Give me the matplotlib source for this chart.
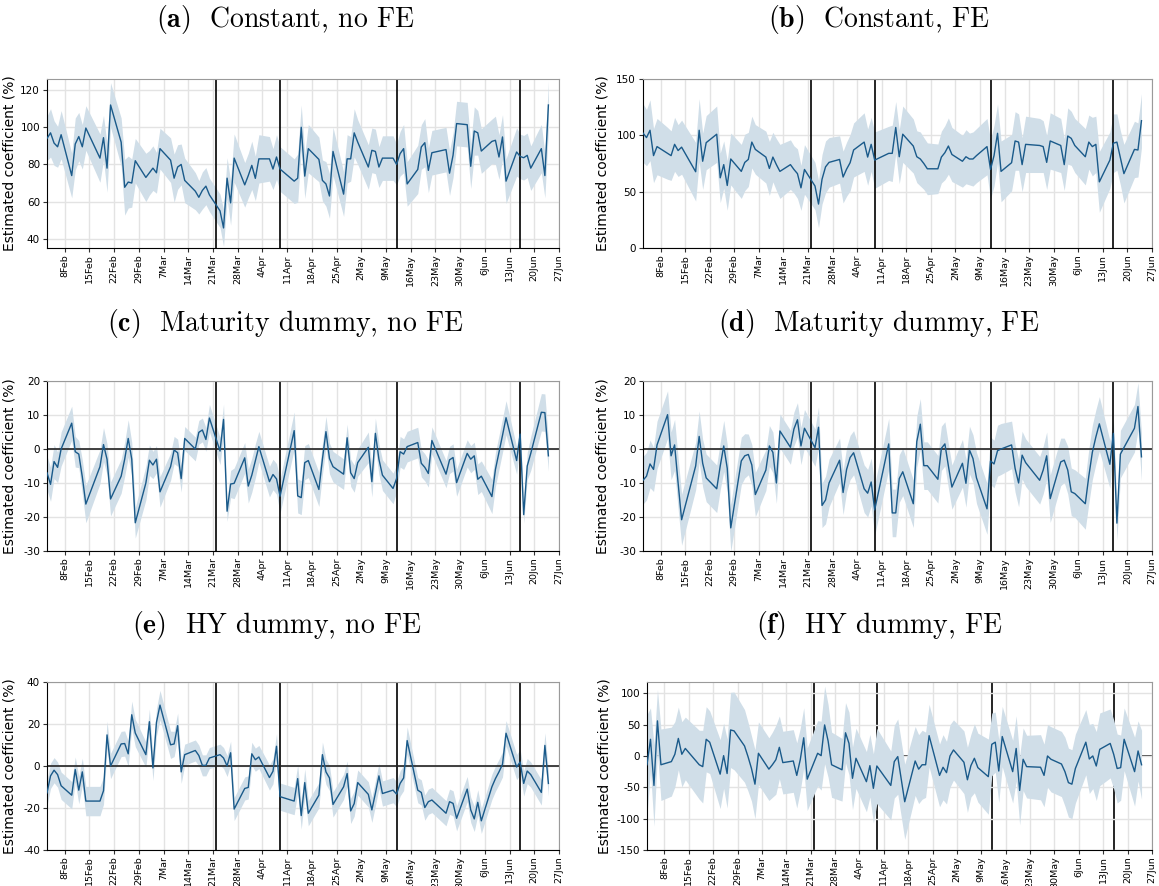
import matplotlib
matplotlib.use("Agg")
import matplotlib.pyplot as plt
import numpy as np
import pandas as pd

plt.rcParams['mathtext.fontset'] = 'cm'
plt.rcParams['axes.unicode_minus'] = False

# trading days, Feb 3 - Jun 24 2020 (US bond market holidays dropped)
dates = pd.bdate_range('2020-02-03', '2020-06-24')
dates = dates.drop(pd.to_datetime(['2020-02-17', '2020-04-10', '2020-05-25']))

events = pd.to_datetime(['2020-03-22', '2020-04-09', '2020-05-12', '2020-06-16'])
week_ticks = pd.date_range('2020-02-08', '2020-06-27', freq='7D')

titles = ['Constant, no FE', 'Constant, FE',
          'Maturity dummy, no FE', 'Maturity dummy, FE',
          'HY dummy, no FE', 'HY dummy, FE']
letters = ['a', 'b', 'c', 'd', 'e', 'f']

# point estimates (%)
est_a = [94, 97, 91.5, 89.5, 96, 74, 91, 95, 89.5, 99.6,
         83.4, 94.4, 78, 112, 92, 67.7, 70.5, 70, 82,
         73, 75.5, 78, 75.5, 88.5, 82.3, 72.6, 78.6, 80, 71.4,
         65.6, 62.3, 66, 68.3, 63.6, 55, 45.8, 72.6, 59.3, 83.4,
         69, 74, 79.5, 72.5, 83, 83, 77.5, 84, 77.5,
         71, 72.6, 100, 73.7, 88.5, 82.7, 71.4, 69.5, 63, 87,
         64, 83, 83, 97, 92, 78.6, 87.6, 87, 78.6, 83.4,
         83.4, 80, 85.8, 88.5, 69.5, 77.3, 89.4, 91.7, 76.8, 86.3,
         88, 75.3, 85, 102, 101.4, 79, 98, 97, 87.2,
         92.4, 93, 84, 94.8, 71, 86.7, 84.3, 83.6, 84.9, 78,
         88.5, 74, 112]
hw_a = [12, 13, 12, 11, 13, 12, 14, 13, 12, 12,
        13, 12, 13, 12, 13, 15, 14, 13, 12,
        13, 12, 12, 11, 11, 12, 13, 12, 11, 12,
        10, 9, 10, 10, 9, 9, 10, 11, 12, 13,
        12, 12, 13, 12, 13, 12, 11, 12, 12,
        12, 13, 12, 12, 13, 12, 11, 12, 12, 13,
        12, 13, 12, 13, 12, 12, 12, 12, 11, 12,
        12, 11, 12, 13, 12, 13, 12, 13, 12, 12,
        12, 12, 12, 12, 12, 12, 13, 12, 12,
        12, 13, 12, 12, 12, 13, 12, 12, 12, 12,
        13, 12, 13]

est_b = [102, 98, 104.5, 82, 90, 84, 82, 92, 86.5, 89.5,
         67.7, 104.5, 77, 93.5, 101, 62.3, 74, 55.5, 79,
         68, 76, 78.6, 94, 87.5, 80.7, 70.6, 80.7, 74, 68,
         74, 69.7, 66, 53.4, 69.7, 55, 39, 61, 72, 76,
         78.6, 63, 70, 75.7, 87, 94, 80.7, 92, 78,
         84, 84, 107, 81, 101, 90.5, 81, 79, 75, 70.3,
         70.3, 80.7, 84.6, 90.5, 83, 77, 81, 79, 79, 82,
         90, 69.7, 82, 101.8, 68, 75.7, 95, 94, 74, 92,
         91, 90, 76, 95, 91, 74, 99.4, 97.3, 91,
         81, 94, 90, 92, 58.7, 78, 93, 94, 80, 66,
         87.5, 87, 113]
hw_b = [26, 25, 27, 24, 25, 23, 22, 24, 23, 24,
        26, 28, 25, 24, 25, 22, 21, 22, 23,
        24, 25, 24, 23, 22, 23, 24, 22, 23, 24,
        22, 21, 22, 20, 22, 21, 21, 22, 23, 22,
        21, 23, 24, 25, 24, 26, 25, 24, 25,
        24, 25, 23, 24, 25, 24, 23, 24, 23, 23,
        22, 23, 24, 25, 24, 23, 24, 23, 24, 24,
        25, 26, 27, 26, 27, 25, 26, 25, 24, 25,
        24, 23, 24, 25, 24, 23, 25, 24, 24,
        25, 24, 26, 25, 27, 25, 26, 25, 24, 26,
        25, 24, 24]

est_c = [-7, -10.4, -3.7, -5.4, 0, 7.6, -0.8, -1.5, -8.2, -16.2,
         -5.2, 1.3, -3, -14.7, -8, -3, 3.1, -3, -21.7,
         -10, -3.3, -4.7, -3, -12.6, -5.2, -0.3, -1.1, -8.7, 3.1,
         0, 4.9, 5.6, 2.8, 9.1, -0.6, 8.7, -18.3, -10.3, -10.1,
         -2.6, -10.9, -7.7, -3.5, 0.7, -9.6, -7.5, -8.8, -13.9,
         5.4, -13.8, -14.3, -4, -3.4, -11.9, -3, 5.1, -2.8, -5.2,
         -7.4, 3.3, -7, -8.7, -4, 0.5, -9.6, 4.6, -3, -7.7,
         -11.6, -8.7, -0.8, -1.5, 0.7, 1.9, -4.2, -5.4, -7.2, 2.5,
         -7.4, -3.2, -2.5, -9.9, -1.3, -3, -2, -8.9, -8,
         -14, -6, -1, 4, 9.2, -3.4, 4.4, -19.3, -5, -1.3,
         10.8, 10.7, -2]
hw_c = [5, 5, 5, 4.5, 5, 5, 4.5, 4, 5, 5.5,
        5, 5, 4.5, 5, 5, 5, 5.5, 5, 4.5,
        5, 4.5, 4, 4, 4.5, 4, 4, 4, 4, 3.5,
        3.5, 3.5, 3.5, 3.5, 4, 4, 4.5, 3, 4, 4.5,
        4.5, 5, 5, 5, 4.5, 4.5, 4.5, 4.5, 5,
        5.5, 5, 5, 5, 5, 5, 4.5, 4.5, 4.5, 4.5,
        4.5, 4, 4, 4, 4, 4.5, 4.5, 4.5, 4.5, 4.5,
        4.5, 4, 4.5, 4.5, 4.5, 4.5, 4, 4, 4, 4,
        4, 4, 4, 4, 4, 4, 4, 4.5, 4.5,
        5, 5, 5, 5, 5, 4, 3, 2.5, 4, 5,
        5.5, 5.5, 4.5]

est_d = [-9.2, -8, -4.4, -6, 1.2, 10.1, -2, 1.2, -10, -20.8,
         -5, 3.7, -4.2, -8.5, -11.7, -5, 0.9, -5.7, -23.2,
         -3.5, -2, -1.6, -4.7, -13.4, -6.2, 0.9, -1, -10, 5.3,
         0.5, 5.9, 8.6, 0.9, 6.1, 0.4, 6.4, -16.6, -15, -10,
         -3.3, -12.8, -6, -2.5, -1.1, -11.7, -13, -9.7, -17.9,
         1.5, -18.8, -18.8, -8.7, -6.7, -16.1, 2.2, 7.3, -4.9, -4.9,
         -8.9, 0.2, 1.5, -5, -11.2, -4.2, -10.1, -0.3, -2.8, -8.5,
         -17.6, -3.5, -4.4, -0.5, 0, 1.2, -5.7, -10, -1.8, -4,
         -9.2, -6.2, -2, -14.6, -3.8, -3.3, -6.2, -12.6, -13.1,
         -16.1, -8, -1, 3.5, 7.4, -4.5, 4.6, -21.8, -1.5, 0.4,
         6.1, 12.5, -2.3]
hw_d = [7, 7, 7, 6.5, 7, 7, 7, 7.5, 7.5, 7.5,
        7, 7.5, 7, 7, 7, 7, 7.5, 7, 7,
        7, 6.5, 6, 6, 6.5, 6, 6, 6, 6, 5,
        5, 5, 5, 5.5, 5.5, 5.5, 6, 6.5, 7, 7,
        6.5, 6.5, 6.5, 6.5, 6.5, 7, 7, 7, 7.5,
        7.5, 7, 7, 7, 7, 7, 7.5, 7.5, 7, 7,
        7, 6.5, 6.5, 6.5, 6.5, 7, 7, 7, 7, 7.5,
        7.5, 7, 7, 7.5, 7.5, 7, 7, 7, 7, 7,
        7, 7, 7, 7, 7, 6.5, 7, 7, 7,
        7.5, 8, 8, 8, 8, 7, 4, 5, 7, 7,
        7, 7, 7]

est_e = [-12.8, -4.7, -2, -4.1, -9.4, -13.9, -1.7, -11.5, -2.8, -16.7,
         -16.7, -11.8, 14.8, 0, 10.5, 10.7, 5.8, 24.4, 15.7,
         5.4, 21.1, -0.9, 20.8, 29, 10.1, 10.5, 19.2, -2.8, 5.4,
         7.4, 5, 0.3, 0.3, 3.8, 5.4, 3.8, 0, 6.3, -20.5,
         -10.7, -10.2, 5.8, 3, 4.3, -5.5, -2.5, 9.4, -14.6,
         -16.7, -6, -23.6, -7.9, -22.5, -13.9, 5.4, -2.8, -5.7, -18.3,
         -9.9, -3.6, -21.4, -17.9, -7.9, -13.5, -20.9, -13, -4.7, -13.1,
         -11.5, -13.4, -8.3, -5.7, 12.1, -11.5, -12.6, -19.8, -17, -16.2,
         -22.5, -17, -17.8, -24.9, -11, -20.9, -25.2, -17.3, -26.1,
         -9.9, -6, -2.8, 0.8, 15.6, -0.5, 1.9, -8.3, -2.4, -4.1,
         -12.6, 9.8, -8.3]
hw_e = [6, 6, 6, 6, 6.5, 6.5, 6, 6.5, 6.5, 7,
        7, 6.5, 6.5, 6, 6, 6, 6, 6.5, 6.5,
        6, 6, 6, 6.5, 7, 6.5, 6, 6, 5.5, 5,
        5, 5, 5, 5, 5, 5, 5, 5, 5.5, 5.5,
        5.5, 5.5, 5.5, 5.5, 5.5, 6, 6, 6, 6.5,
        6.5, 6.5, 6.5, 6.5, 6, 6, 6, 6, 6, 6,
        6, 6, 6, 6, 6, 6, 6, 6, 6, 6,
        6, 6, 6, 6, 6.5, 6, 6, 6, 6, 6,
        6, 6, 6, 6, 6, 6, 6, 6, 6,
        6, 6, 6, 6, 6, 6, 6, 6, 6, 6,
        6, 6, 6]

est_f = [-14, 26.6, -47, 56, -14, -9, 2.7, 28, 2.7, 12,
         -14, -17, 26.6, 22, -29, 0.5, -28, 41.5, 40,
         16, -1, -20, -45, 4.3, -21, -14, -6, 13.8, -10.6,
         -8, -31, -6, 29, -37, 4.3, 0.5, 49.5, 24, -14,
         -22, 37, 20, -35.6, -3.7, -41, -15.4, -51.6, -16,
         -47, -9, -1, -37, -73, -8, -21, -14, -14, 32.4,
         -31, -18, -26.6, 0, 9.6, -10, -38, -15.4, -3.7, -18.6,
         -33, 18.6, 22, -24, 31, -25, 12, -55, -5.3, -17,
         -18, -31, 0, -5.3, -12.8, -25, -42.5, -45, -20,
         22, -4.8, 0, -16, 10.6, 20, 2.7, -20, -18.6, 26.6,
         -25, 8, -14]
hw_f = [80, 50, 65, 50, 57, 55, 52, 50, 52, 50,
        55, 58, 52, 50, 55, 52, 55, 60, 62,
        58, 55, 52, 55, 50, 50, 52, 55, 50, 50,
        50, 52, 50, 48, 50, 52, 55, 62, 58, 52,
        50, 48, 50, 50, 48, 48, 50, 55, 60,
        55, 58, 60, 60, 60, 55, 55, 55, 52, 50,
        50, 52, 50, 50, 48, 50, 52, 50, 55, 55,
        60, 50, 48, 50, 48, 50, 52, 55, 50, 50,
        52, 50, 50, 52, 52, 55, 55, 55, 55,
        52, 55, 52, 55, 58, 55, 55, 55, 52, 50,
        55, 48, 55]

estimates = [est_a, est_b, est_c, est_d, est_e, est_f]
halfwidths = [hw_a, hw_b, hw_c, hw_d, hw_e, hw_f]
ylims = [(35, 126), (0, 150), (-30, 20), (-30, 20), (-40, 40), (-150, 118)]
yticks = [np.arange(40, 121, 20), np.arange(0, 151, 50), np.arange(-30, 21, 10),
          np.arange(-30, 21, 10), np.arange(-40, 41, 20), np.arange(-150, 101, 50)]

W, H = 1159, 886
# axes boxes in pixels: left, top, right, bottom
boxes = [(47, 79, 559, 248), (643, 79, 1152, 248),
         (47, 381, 559, 551), (643, 381, 1152, 551),
         (47, 682, 559, 850), (647, 682, 1152, 850)]
ylabel_x = [17, 610, 17, 610, 17, 611]
title_pos = [(285, 20), (879, 20), (285, 323), (879, 323), (277, 626), (879, 626)]

line_col = '#1a5a8a'
band_col = '#d0dee8'

fig = plt.figure(figsize=(W / 100, H / 100), dpi=100)

for i in range(6):
    l, t, r, b = boxes[i]
    ax = fig.add_axes([l / W, 1 - b / H, (r - l) / W, (b - t) / H])
    est = np.array(estimates[i])
    hw = np.array(halfwidths[i])

    # in the HY/FE panel the band covers the reference lines
    ref_z = 0.5 if i == 5 else 1.5
    ax.fill_between(dates, est - hw, est + hw, color=band_col, lw=0, zorder=1)
    ax.plot(dates, est, color=line_col, lw=1.0, zorder=3)
    for ev in events:
        ax.axvline(ev, color='black', lw=1.2, zorder=ref_z)
    if i >= 2:
        ax.axhline(0, color='#222222', lw=1.2, zorder=ref_z)

    ax.set_xlim(pd.Timestamp('2020-02-03'), pd.Timestamp('2020-06-27'))
    ax.set_ylim(*ylims[i])
    ax.set_yticks(yticks[i])
    ax.set_xticks(week_ticks)
    ax.set_xticklabels([f"{d.day}{d.strftime('%b')}" for d in week_ticks],
                       rotation=90, fontsize=6.8)
    ax.tick_params(axis='y', labelsize=7.5, length=3, pad=2, color='#333333')
    ax.tick_params(axis='x', length=3, pad=1.5, color='#333333')
    ax.grid(True, color='#e3e3e3', lw=1, zorder=0)
    ax.set_axisbelow(True)
    for s in ['top', 'right']:
        ax.spines[s].set_color('#9a9a9a')
    for s in ['left', 'bottom']:
        ax.spines[s].set_color('black')
    ax.set_ylabel('Estimated coefficient (%)', fontsize=10)
    ax.yaxis.set_label_coords((ylabel_x[i] - l) / (r - l), 0.5)

    tx, ty = title_pos[i]
    fig.text(tx / W, 1 - ty / H, r'$\mathbf{(' + letters[i] + r')}$  ' + titles[i],
             ha='center', va='center', fontsize=20, family='cmr10')

fig.savefig('out.png', dpi=100)
